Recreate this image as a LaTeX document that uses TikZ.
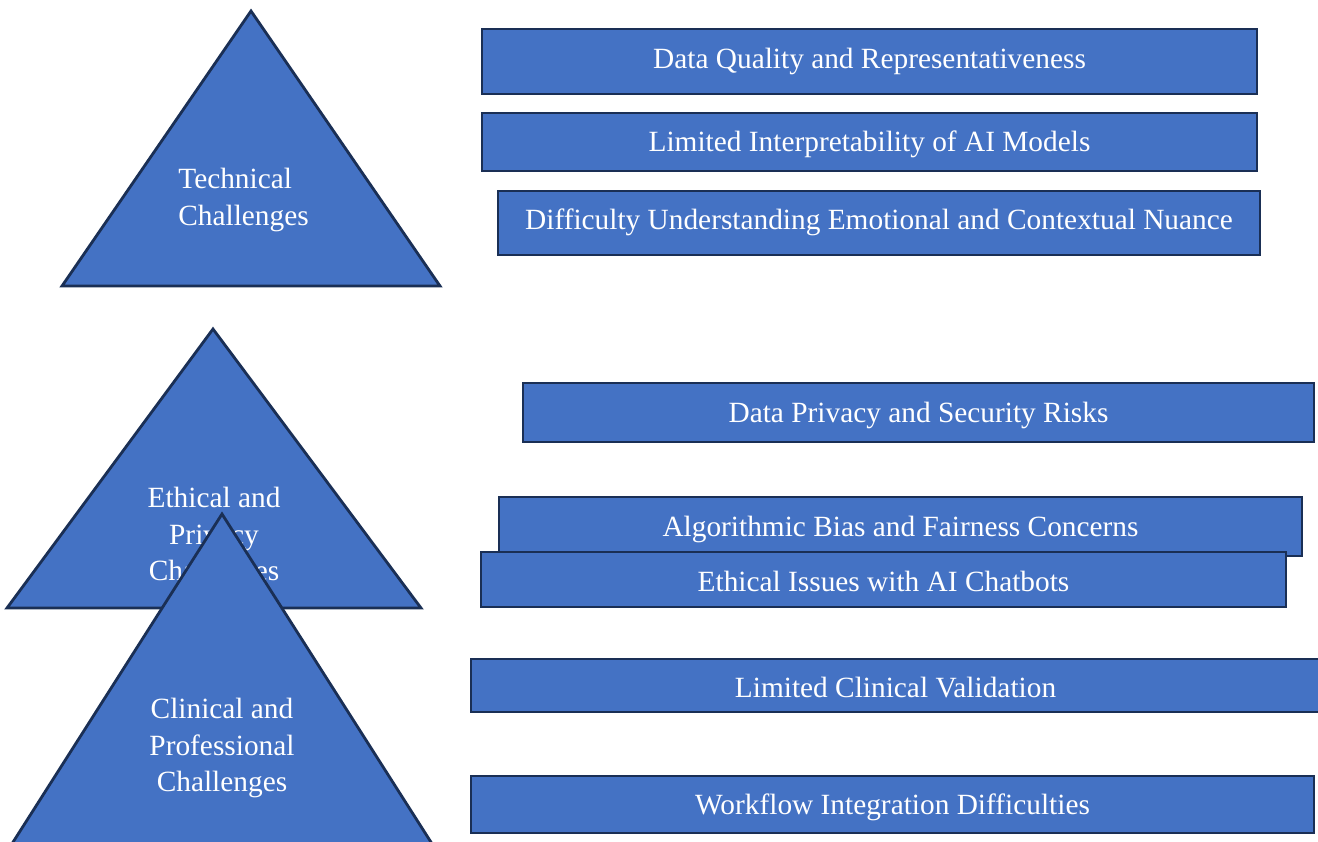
\documentclass[tikz,border=0pt]{standalone}
\usepackage{fontspec}
\setmainfont{Liberation Serif}
\usepackage{xcolor}
\usepackage{tikz}
\definecolor{boxblue}{HTML}{4472C4}
\definecolor{edgenavy}{HTML}{1A2F55}

\begin{document}
\begin{tikzpicture}[every node/.style={font=\fontsize{16.7}{20.6}\selectfont,text=white},
  tri/.style={fill=boxblue,draw=edgenavy,line width=1.6pt,line join=miter},
  box/.style={rectangle,fill=boxblue,draw=edgenavy,line width=1.6pt,inner sep=0pt,text depth=0pt,text height=11.3pt},
  lbl/.style={align=center,inner sep=0pt}]
  \useasboundingbox (0,0) rectangle (26.36,-16.82);
  \clip (0,0) rectangle (26.36,-16.82);
  % Triangles, top to bottom
  \draw[tri] (5.02,-0.22) -- (1.24,-5.72) -- (8.80,-5.72) -- cycle;
  \node[lbl,align=left,anchor=west] (tech) at (3.56,-4.0) {Technical\\Challenges};
  \draw[tri] (4.26,-6.58) -- (0.14,-12.16) -- (8.42,-12.16) -- cycle;
  \node[lbl] (ethic) at (4.28,-10.74) {Ethical and\\Privacy\\Challenges};
  \draw[tri] (4.44,-10.28) -- (0.02,-17.22) -- (8.86,-17.22) -- cycle;
  \node[lbl] (clin) at (4.44,-14.96) {Clinical and\\Professional\\Challenges};
  % Technical boxes
  \node[box,minimum width=15.5cm,minimum height=1.3cm,text height=8.5pt] (quality) at (17.39,-1.23) {Data Quality and Representativeness};
  \node[box,minimum width=15.5cm,minimum height=1.16cm] (interp) at (17.39,-2.84) {Limited Interpretability of AI Models};
  \node[box,minimum width=15.24cm,minimum height=1.28cm,text height=7.9pt] (nuance) at (17.58,-4.46) {Difficulty Understanding Emotional and Contextual Nuance};
  % Ethical boxes
  \node[box,minimum width=15.82cm,minimum height=1.18cm,text height=10.8pt] (privacy) at (18.37,-8.25) {Data Privacy and Security Risks};
  \node[box,minimum width=16.06cm,minimum height=1.18cm] (bias) at (18.01,-10.53) {Algorithmic Bias and Fairness Concerns};
  \node[box,minimum width=16.1cm,minimum height=1.1cm,text height=13.8pt] (chatbot) at (17.67,-11.59) {Ethical Issues with AI Chatbots};
  % Clinical boxes
  \node[box,minimum width=16.98cm,minimum height=1.06cm,text height=14.2pt] (valid) at (17.91,-13.71) {Limited Clinical Validation};
  \node[box,minimum width=16.86cm,minimum height=1.14cm] (workflow) at (17.85,-16.09) {Workflow Integration Difficulties};
\end{tikzpicture}
\end{document}
